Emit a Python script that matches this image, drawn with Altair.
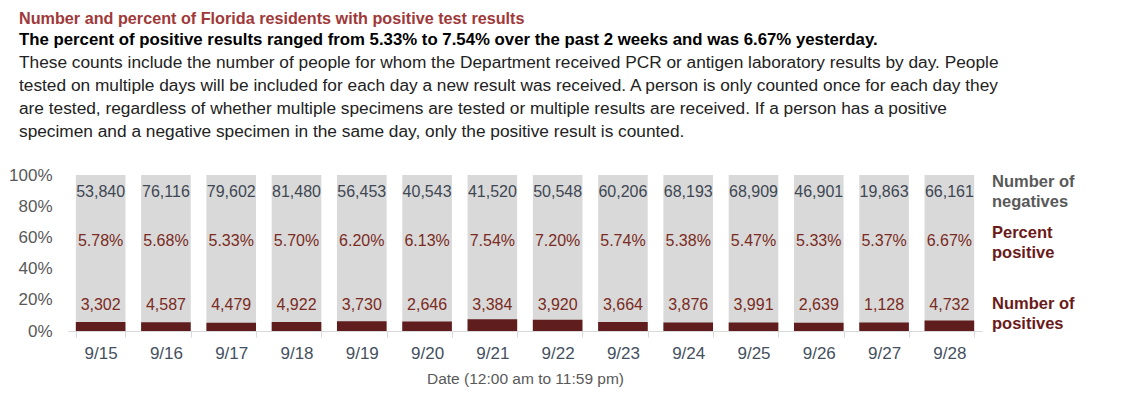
import altair as alt
import pandas as pd

dates = ["9/15", "9/16", "9/17", "9/18", "9/19", "9/20", "9/21",
         "9/22", "9/23", "9/24", "9/25", "9/26", "9/27", "9/28"]
negatives = [53840, 76116, 79602, 81480, 56453, 40543, 41520,
             50548, 60206, 68193, 68909, 46901, 19863, 66161]
positives = [3302, 4587, 4479, 4922, 3730, 2646, 3384,
             3920, 3664, 3876, 3991, 2639, 1128, 4732]
pct_positive = [5.78, 5.68, 5.33, 5.70, 6.20, 6.13, 7.54,
                7.20, 5.74, 5.38, 5.47, 5.33, 5.37, 6.67]

title_text = "Number and percent of Florida residents with positive test results"
subtitle_text = "The percent of positive results ranged from 5.33% to 7.54% over the past 2 weeks and was 6.67% yesterday."
body_lines = [
    "These counts include the number of people for whom the Department received PCR or antigen laboratory results by day. People",
    "tested on multiple days will be included for each day a new result was received. A person is only counted once for each day they",
    "are tested, regardless of whether multiple specimens are tested or multiple results are received. If a person has a positive",
    "specimen and a negative specimen in the same day, only the positive result is counted.",
]

df = pd.DataFrame({
    "date": dates,
    "neg": negatives,
    "pos": positives,
    "pct": [p / 100 for p in pct_positive],
    "total": [1.0] * len(dates),
})
df["neg_label"] = [f"{v:,}" for v in negatives]
df["pos_label"] = [f"{v:,}" for v in positives]
df["pct_label"] = [f"{p:.2f}%" for p in pct_positive]

FONT = "Liberation Sans, Arial, sans-serif"

xaxis = alt.Axis(title="Date (12:00 am to 11:59 pm)", labelAngle=0,
                 tickBand="extent", tickSize=6, tickColor="#d9d9d9",
                 domainColor="#d9d9d9", labelPadding=8,
                 labelFontSize=17, labelColor="#44505e", labelFont=FONT,
                 titleFontSize=15.5, titleColor="#595959", titleFont=FONT,
                 titleFontWeight="normal", titlePadding=10)
yaxis = alt.Axis(format=".0%", values=[0, 0.2, 0.4, 0.6, 0.8, 1.0],
                 title=None, domain=False, ticks=False, grid=False,
                 labelOverlap=False, labelFlush=False,
                 labelPadding=16, labelFontSize=17, labelColor="#595959",
                 labelFont=FONT)
xscale = alt.Scale(paddingInner=0.24, paddingOuter=0.12)
yscale = alt.Scale(domain=[0, 1])

def X():
    return alt.X("date:N", sort=dates, scale=xscale, axis=xaxis)

base = alt.Chart(df)

bg = base.mark_bar(color="#d9d9d9").encode(
    x=X(), y=alt.Y("total:Q", scale=yscale, axis=yaxis))

posbar = base.mark_bar(color="#5f1d1d").encode(
    x=X(), y=alt.Y("pct:Q", scale=yscale, axis=yaxis))

def row(field, level, color):
    return base.mark_text(font=FONT, fontSize=16, color=color).encode(
        x=X(), y=alt.Y(datum=level, scale=yscale, axis=yaxis), text=f"{field}:N")

neg_txt = row("neg_label", 0.89, "#3e4753")
pct_txt = row("pct_label", 0.577, "#7a2b22")
pos_txt = row("pos_label", 0.165, "#7a2b22")

ann = pd.DataFrame({"k": [0]})
def hdr(text, y, size, color, weight="normal"):
    return alt.Chart(ann).mark_text(
        text=text, align="left", baseline="middle", font=FONT, fontSize=size,
        color=color, fontWeight=weight).encode(x=alt.value(-49), y=alt.value(y))

headers = [
    hdr(title_text, -156, 16.2, "#a0393a", "bold"),
    hdr(subtitle_text, -135, 16.8, "#000000", "bold"),
]
for i, line in enumerate(body_lines):
    headers.append(hdr(line, -112 + 23 * i, 17.3, "#222222"))

def side(lines, y, color):
    return alt.Chart(ann).mark_text(
        text=lines, align="left", baseline="middle", font=FONT, fontSize=16.5,
        color=color, fontWeight="bold", lineHeight=20).encode(
        x=alt.value(924), y=alt.value(y))

sides = [
    side(["Number of", "negatives"], 7, "#595959"),
    side(["Percent", "positive"], 58, "#6b1a1a"),
    side(["Number of", "positives"], 129, "#6b1a1a"),
]

chart = alt.layer(bg, posbar, neg_txt, pct_txt, pos_txt, *headers, *sides).properties(
    width=914, height=156,
    autosize=alt.AutoSizeParams(type="none"),
    padding={"left": 60, "top": 167, "right": 140, "bottom": 60},
).configure_view(stroke=None).configure_axisY(labelOverlap=False)

chart.save("out.html", embed_options={"renderer": "svg", "actions": False})
